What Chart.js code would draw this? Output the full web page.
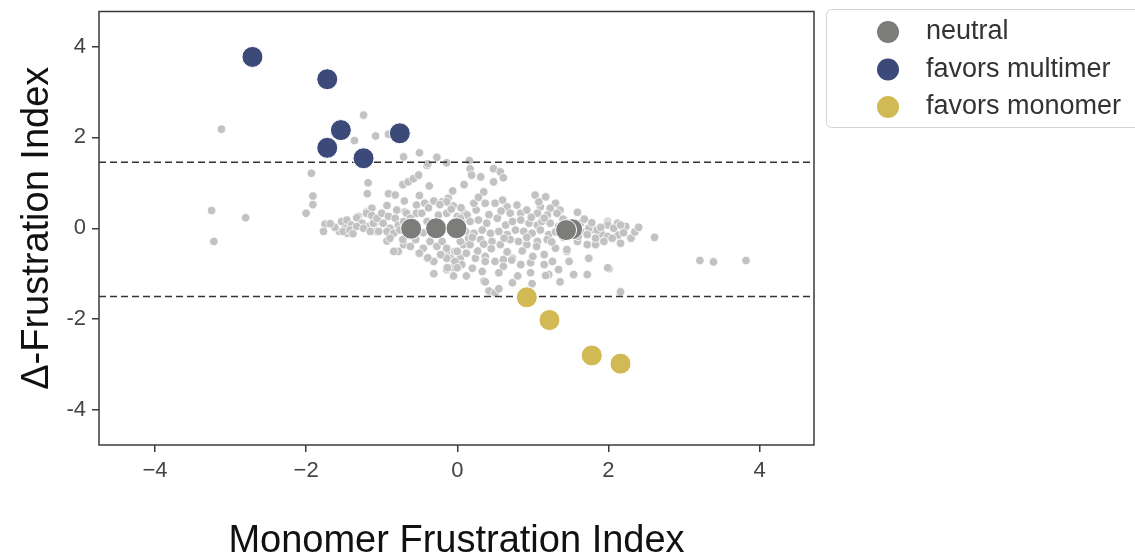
<!DOCTYPE html>
<html><head><meta charset="utf-8">
<script src="https://cdn.jsdelivr.net/npm/chart.js@4.4.0/dist/chart.umd.min.js"></script>
<style>html,body{margin:0;padding:0;background:#fff;overflow:hidden}#wrap{width:1135px;height:559px}</style>
</head><body><div id="wrap"><canvas id="c" width="1135" height="559"></canvas></div>
<script>
// ---- data ----
const xTicks = [-4, -2, 0, 2, 4];
const yTicks = [-4, -2, 0, 2, 4];
const xRange = [-4.74, 4.72];
const yRange = [-4.77, 4.77];
const thresholds = [1.45, -1.5];
const categories = ['neutral', 'favors multimer', 'favors monomer'];
const colors = ['#7c7c7a', '#3c4a7a', '#d1b953'];
const neutralPts = [[-0.61,-0.01],[-0.28,0.0],[-0.01,0.0],[1.52,-0.02],[1.44,-0.04]];
const multimerPts = [[-2.71,3.77],[-1.72,3.28],[-1.54,2.16],[-1.72,1.77],[-1.24,1.54],[-0.76,2.09]];
const monomerPts = [[0.92,-1.52],[1.22,-2.02],[1.78,-2.80],[2.16,-2.98]];
const backgroundPts = [
[-3.12,2.18],[-3.25,0.39],[-3.22,-0.29],[-2.80,0.23],
[-1.24,2.49],[-1.36,1.93],[-1.08,2.03],[-0.91,2.07],
[-1.93,1.21],[-1.91,0.71],[-1.91,0.52],[-2.00,0.33],
[-1.18,1.00],[-1.19,0.76],[-1.75,0.09],[-1.77,-0.07],
[-0.71,1.57],[-0.50,1.66],[-0.40,1.38],[-0.27,1.56],[-0.14,1.44],[-0.39,1.42],
[-0.37,0.93],[0.09,0.96],[-0.06,0.82],
[-0.72,0.96],[-0.65,1.02],[-0.58,1.09],[-0.51,1.17],
[-0.91,0.76],[-0.82,0.73],
[-0.54,0.51],[-0.43,0.55],[-0.31,0.60],[-0.20,0.58],[-0.12,0.66],[-0.05,0.49],
[-0.69,0.36],[-0.93,0.50],[-0.54,0.33],[0.10,0.33],
[0.16,1.49],[0.17,1.31],[0.19,1.17],[0.31,1.13],
[0.48,1.31],[0.57,1.24],[0.61,1.11],[0.48,1.02],
[0.35,0.80],[0.37,0.55],[-0.14,0.58],[-0.23,0.52],
[1.03,0.73],[1.17,0.69],[1.30,0.55],[1.23,0.44],[1.10,0.47],[1.08,0.58],[1.36,0.40],
[1.59,0.35],[1.48,0.11],[0.66,0.47],[0.79,0.51],[0.70,0.33],[0.84,0.33],
[1.06,0.33],[1.19,0.29],[1.32,0.33],
[1.99,0.15],[2.12,0.11],[2.23,0.04],[1.81,-0.03],[1.92,-0.14],[2.05,-0.22],[2.16,-0.33],
[2.29,-0.22],[2.61,-0.20],[1.72,-0.36],[1.83,-0.36],[1.94,-0.29],[1.45,-0.51],[1.48,-0.73],
[1.74,-0.67],[2.01,-0.89],[1.63,-0.07],[1.59,-0.29],[1.99,0.11],[2.30,-0.22],[2.13,-0.15],[1.99,-0.18],
[3.21,-0.71],[3.39,-0.74],[3.82,-0.71],[2.16,-1.40],
[-1.56,-0.07],[-1.48,0.04],[-1.46,-0.11],[-1.31,0.26],[-1.26,0.07],[-1.20,0.36],
[-1.13,0.44],[-1.18,0.04],[-1.09,0.11],[-1.07,-0.07],
[-1.53,0.15],[-1.46,0.18],[-1.40,0.07],[-1.33,0.23],[-1.26,0.11],[-1.20,0.33],[-1.13,0.28],
[-1.11,0.11],[-1.06,0.22],[-1.00,0.33],[-0.98,0.11],[-0.91,0.26],[-0.89,0.00],[-0.82,0.22],
[-0.78,0.07],[-0.71,0.15],[-0.67,0.33],[-0.62,0.22],[-0.56,0.11],[-0.47,0.33],[-0.40,0.15],
[-0.25,0.29],[-0.14,0.33],[0.00,0.26],[0.06,0.15],[0.13,0.29],
[-1.51,-0.07],[-1.42,-0.04],[-1.33,0.04],[-1.24,0.00],[-1.15,-0.07],[-1.04,-0.07],
[-0.93,-0.07],[-0.84,-0.11],[-0.76,-0.04],
[-0.93,-0.28],[-0.89,-0.22],[-0.78,-0.51],[-0.71,-0.36],[-0.62,-0.40],[-0.51,-0.55],
[-0.45,-0.44],[-0.40,-0.66],[-0.36,-0.29],[-0.27,-0.40],[-0.20,-0.29],[-0.14,-0.51],
[-0.09,-0.66],[-0.03,-0.51],[0.04,-0.66],[0.08,-0.36],[0.15,-0.22],[-0.31,-0.73],
[-0.14,-0.87],[-0.05,-0.87],[-0.31,-1.00],[0.06,-0.80],
[0.04,0.22],[0.17,0.15],[0.28,0.18],[0.39,0.11],[0.53,0.22],[0.64,0.07],[0.73,0.15],
[0.84,0.18],[0.95,0.11],[1.06,0.07],[1.12,0.15],[1.23,0.11],[1.34,0.04],[1.63,0.11],
[1.74,0.00],[1.85,-0.04],[1.99,0.07],[2.07,0.00],[2.16,0.07],
[0.11,-0.07],[0.22,-0.11],[0.33,-0.04],[0.44,-0.11],[0.55,-0.07],[0.66,-0.14],[0.77,-0.04],
[0.88,-0.07],[0.99,-0.11],[1.10,-0.04],[1.21,-0.14],[1.72,-0.14],[1.83,-0.22],[1.94,-0.29],[2.05,-0.22],
[0.04,-0.29],[0.17,-0.36],[0.31,-0.25],[0.46,-0.29],[0.57,-0.36],[0.70,-0.25],[0.81,-0.29],
[0.92,-0.36],[1.06,-0.29],[1.19,-0.25],[1.30,-0.44],[1.45,-0.47],
[-0.14,-0.44],[0.00,-0.51],[-0.14,-0.66],[-0.03,-0.73],[-0.14,-0.91],[0.00,-0.87],
[0.24,-0.66],[0.37,-0.62],[0.50,-0.73],[0.61,-0.69],[0.73,-0.66],[0.84,-0.80],[0.97,-0.76],
[1.15,-0.80],[1.26,-0.73],[1.34,-0.91],[1.54,-1.02],[1.74,-0.66],[1.99,-0.87],[1.21,-1.02],
[0.97,-0.98],[0.35,-1.16],[0.73,-1.20],[1.72,-1.02],
[-0.84,-0.51],[-0.50,-0.55],[-0.39,-0.65],[-0.13,-0.87],[0.33,-0.95],[0.37,-0.73],
[0.61,-0.84],[0.72,-0.70],[0.37,-1.18],[1.17,-1.04],[1.36,-1.18],[0.99,-1.22],
[0.42,-1.38],[0.50,-1.42],[0.55,-1.33],
[0.25,0.40],[0.42,0.30],[0.58,0.38],[0.92,0.40],[0.98,0.24],[1.15,0.22],[1.40,0.20],
[1.55,0.05],[1.68,0.20],[1.78,0.12],[1.90,0.02],[2.20,-0.10],[2.35,-0.08],[2.40,0.02],
[1.60,-0.18],[1.40,-0.20],[1.30,-0.08],[1.25,-0.30],[1.05,-0.40],[0.86,-0.50],[0.66,-0.52],
[0.45,-0.45],[0.27,-0.50],[0.12,-0.55],[0.20,-0.20],[0.35,-0.35],[0.62,-0.22],[0.92,-0.20],
[1.15,-0.58],[1.00,-0.62],[0.80,-1.05],[0.55,-0.98],[0.20,-0.88],[0.12,-1.05],[-0.05,-1.05],
[-0.22,-0.58],[-0.30,-0.15],[-0.45,-0.10],[-0.55,-0.25],[-0.65,-0.15],[-0.72,-0.25],
[-0.80,0.40],[-0.38,0.45],[-0.08,0.42],[0.05,0.45],[0.22,0.55],[0.50,0.55],[0.60,0.62],
[0.28,0.68],[-0.50,0.72],[-0.70,0.60],[-1.38,-0.12],[-1.62,0.02],[-1.68,0.10]
];

const FONT = '"Liberation Sans", Arial, Helvetica, sans-serif';
const toXY = arr => arr.map(p => ({x: p[0], y: p[1]}));

const framePlugin = {
  id: 'frame',
  afterDatasetsDraw(chart) {
    const {ctx, chartArea: a} = chart;
    ctx.save();
    ctx.strokeStyle = '#3a3a3a';
    ctx.lineWidth = 1.5;
    ctx.strokeRect(a.left, a.top, a.right - a.left, a.bottom - a.top);
    ctx.restore();
  }
};

const legendPlugin = {
  id: 'boxLegend',
  afterDraw(chart) {
    const ctx = chart.ctx;
    ctx.save();
    ctx.beginPath();
    ctx.roundRect(826.5, 9.5, 330, 118, 5);
    ctx.strokeStyle = '#d2d2d2';
    ctx.lineWidth = 1;
    ctx.stroke();
    categories.forEach((label, i) => {
      const y = 32 + i * 37.5;
      ctx.beginPath();
      ctx.arc(888, y, 11, 0, Math.PI * 2);
      ctx.fillStyle = colors[i];
      ctx.fill();
      ctx.fillStyle = '#333';
      ctx.font = '27px ' + FONT;
      ctx.textBaseline = 'middle';
      ctx.textAlign = 'left';
      ctx.fillText(label, 926, y);
    });
    ctx.restore();
  }
};

const lineDs = (v) => ({
  type: 'scatter', showLine: true, data: [{x: xRange[0], y: v}, {x: xRange[1], y: v}],
  borderColor: '#333', borderWidth: 1.5, borderDash: [7, 4], pointRadius: 0, order: 4
});

new Chart(document.getElementById('c'), {
  type: 'scatter',
  data: {
    datasets: [
      {label: 'background', data: toXY(backgroundPts), backgroundColor: '#c2c2c2',
       borderColor: '#ffffff', borderWidth: 0.8, pointRadius: 4.3, order: 5},
      lineDs(thresholds[0]),
      lineDs(thresholds[1]),
      {label: categories[0], data: toXY(neutralPts), backgroundColor: colors[0],
       borderColor: '#ffffff', borderWidth: 1, pointRadius: 10.5, order: 3},
      {label: categories[1], data: toXY(multimerPts), backgroundColor: colors[1],
       borderColor: '#ffffff', borderWidth: 1, pointRadius: 10.5, order: 2},
      {label: categories[2], data: toXY(monomerPts), backgroundColor: colors[2],
       borderColor: '#ffffff', borderWidth: 1, pointRadius: 10.5, order: 1}
    ]
  },
  options: {
    responsive: false, animation: false, devicePixelRatio: 1,
    layout: {padding: {top: 8, right: 321, left: 0, bottom: 0}},
    plugins: {legend: {display: false}, tooltip: {enabled: false}},
    scales: {
      x: {
        type: 'linear', min: xRange[0], max: xRange[1],
        afterBuildTicks: a => { a.ticks = xTicks.map(v => ({value: v})); },
        afterFit: s => { s.height = 114; s.paddingLeft = 0; s.paddingRight = 0; },
        grid: {display: true, drawOnChartArea: false, drawTicks: true, tickLength: 7, color: '#3a3a3a', lineWidth: 1.5},
        border: {display: false},
        ticks: {font: {family: FONT, size: 22}, color: '#444', padding: 6, maxRotation: 0,
                callback: v => String(v).replace('-', '\u2212')},
        title: {display: true, text: 'Monomer Frustration Index', color: '#111',
                font: {family: FONT, size: 38, lineHeight: 0.9}, padding: {top: 0, bottom: 0}}
      },
      y: {
        type: 'linear', min: yRange[0], max: yRange[1],
        afterBuildTicks: a => { a.ticks = yTicks.map(v => ({value: v})); },
        afterFit: s => { s.width = 99; s.paddingTop = 0; s.paddingBottom = 0; },
        grid: {display: true, drawOnChartArea: false, drawTicks: true, tickLength: 7, color: '#3a3a3a', lineWidth: 1.5},
        border: {display: false},
        ticks: {font: {family: FONT, size: 22}, color: '#444', padding: 6,
                callback: v => String(v)},
        title: {display: true, text: '\u0394-Frustration Index', color: '#111',
                font: {family: FONT, size: 38, lineHeight: 1.2}, padding: {top: 15, bottom: 0}}
      }
    }
  },
  plugins: [framePlugin, legendPlugin]
});
</script></body></html>
